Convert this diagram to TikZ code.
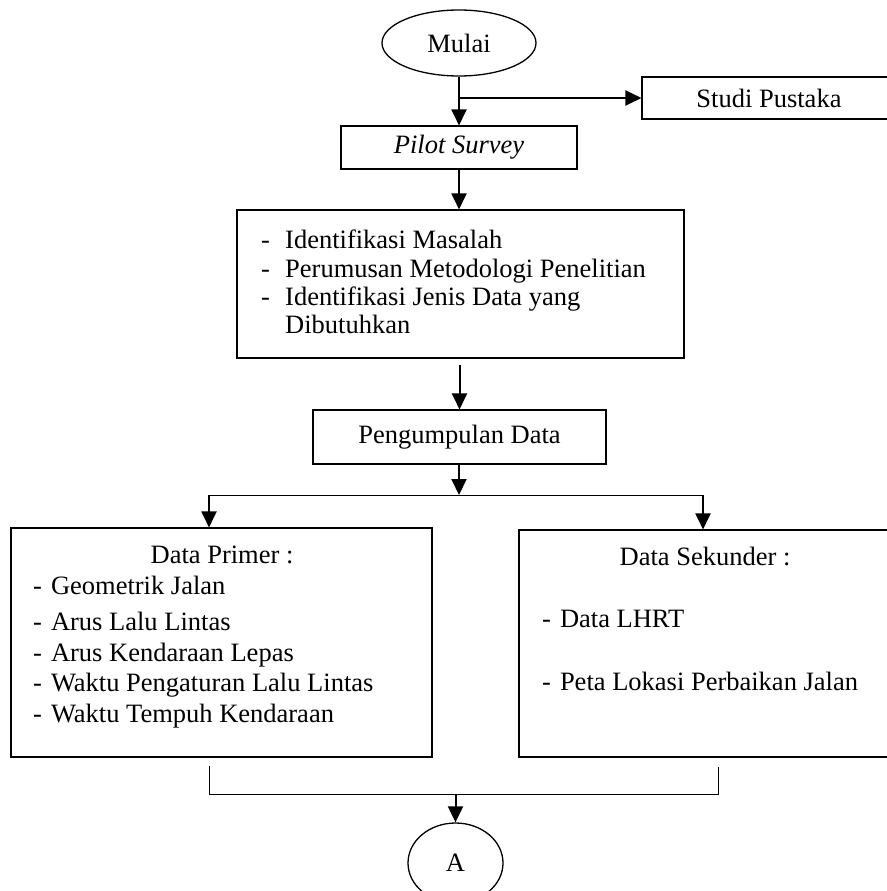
\documentclass[tikz,border=0pt]{standalone}
\usepackage{fontspec}
\setmainfont{Liberation Serif}
\usepackage{tikz}
\usetikzlibrary{shapes,arrows.meta,positioning,calc}
\newcommand{\flowfont}{\fontsize{26.5}{28.5}\selectfont}
\tikzset{
    fbox/.style={draw, line width=1.1pt, inner sep=0pt,
                 font=\flowfont, align=center},
    term/.style={draw, ellipse, line width=1.3pt, inner sep=0pt,
                 font=\flowfont},
    item/.style={anchor=base west, inner sep=0pt, font=\flowfont},
    head/.style={anchor=base, inner sep=0pt, font=\flowfont},
    flow/.style={line width=2pt, -{Triangle[length=16pt,width=15pt]}},
    joint/.style={line width=1pt},
}
\begin{document}
\begin{tikzpicture}[x=1pt, y=-1pt]
    \useasboundingbox (0,0) rectangle (886,891);
    \node[term, minimum width=154pt, minimum height=66pt] (mulai) at (459,43) {Mulai};
    \node[fbox, minimum width=260pt, minimum height=42pt] (studi) at (772,98) {Studi Pustaka\hspace{6pt}};
    \node[fbox, minimum width=236pt, minimum height=43pt] (pilot) at (459,147.5) {\itshape Pilot Survey};
    \node[fbox, minimum width=447pt, minimum height=148pt] (masalah) at (460.5,284) {};
    \node[item] (d1) at (261,248) {-};
    \node[item] (m1) at (285,248) {Identifikasi Masalah};
    \node[item] (d2) at (261,277) {-};
    \node[item] (m2) at (285,277) {Perumusan Metodologi Penelitian};
    \node[item] (d3) at (261,305) {-};
    \node[item] (m3) at (285,305) {Identifikasi Jenis Data yang};
    \node[item] (m4) at (285,333) {Dibutuhkan};
    \node[fbox, minimum width=293pt, minimum height=54pt] (kumpul) at (459.5,437) {Pengumpulan Data};

    \node[fbox, minimum width=421pt, minimum height=229pt] (primer) at (221.5,642.5) {};
    \node[head] (primerT) at (222,563) {Data Primer :};
    \node[item] (p1) at (33,594) {-\hspace{9pt}Geometrik Jalan};
    \node[item] (p2) at (33,630) {-\hspace{9pt}Arus Lalu Lintas};
    \node[item] (p3) at (33,661) {-\hspace{9pt}Arus Kendaraan Lepas};
    \node[item] (p4) at (33,691) {-\hspace{9pt}Waktu Pengaturan Lalu Lintas};
    \node[item] (p5) at (33,722) {-\hspace{9pt}Waktu Tempuh Kendaraan};

    \node[fbox, minimum width=385pt, minimum height=227pt] (sekunder) at (711.5,643.5) {};
    \node[head] (sekunderT) at (705,565) {Data Sekunder :};
    \node[item] (s1) at (542,627) {-\hspace{9pt}Data LHRT};
    \node[item] (s2) at (542,690) {-\hspace{9pt}Peta Lokasi Perbaikan Jalan};

    \node[term, minimum width=95pt, minimum height=80pt] (A) at (455.5,863) {A};

    \coordinate (cabang) at (459,98);
    \coordinate (bagi) at (459,495);
    \coordinate (bagiL) at (209,495);
    \coordinate (bagiR) at (703,495);
    \coordinate (gabL) at (209,766);
    \coordinate (gabR) at (718,767);
    \coordinate (gab) at (455.5,794);

    \draw[flow] (mulai.south) -- (pilot.north);
    \draw[flow] (cabang) -- (studi.west);
    \draw[flow] (pilot.south) -- (masalah.north -| pilot.south);
    \draw[flow] ([yshift=-6pt]masalah.south -| kumpul.north) -- (kumpul.north);
    \draw[flow] (kumpul.south -| bagi) -- (bagi);
    \draw[joint] (bagiL) -- (bagiR);
    \draw[flow] (bagiL) -- (bagiL |- primer.north);
    \draw[flow] (bagiR) -- (bagiR |- sekunder.north);
    \draw[joint] (gabL) -- (gabL |- gab) -- (gabR |- gab) -- (gabR);
    \draw[flow] (gab) -- (A.north);
\end{tikzpicture}
\end{document}
